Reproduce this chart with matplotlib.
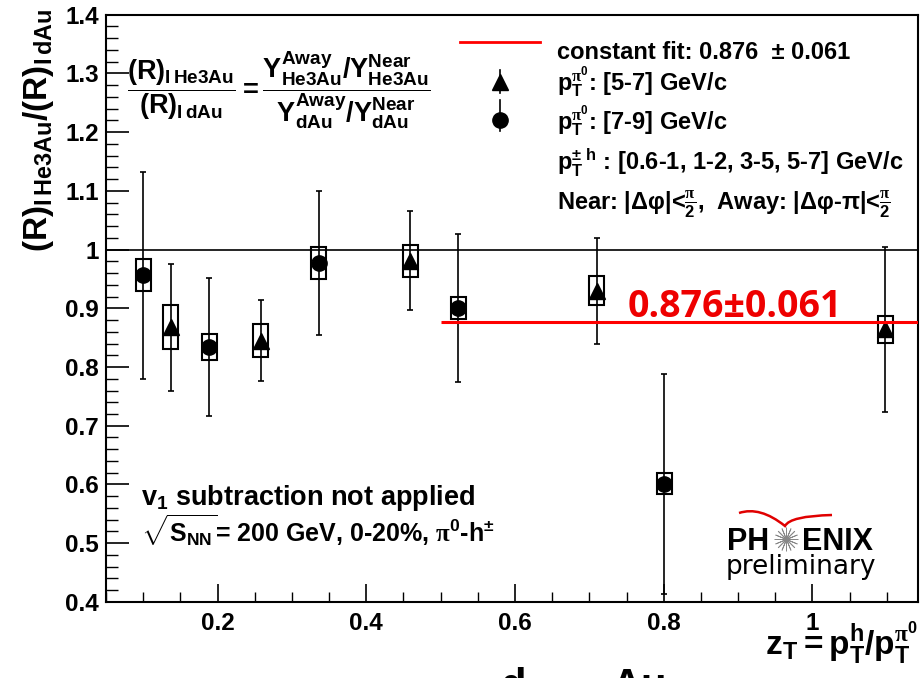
import numpy as np
import matplotlib.pyplot as plt
from matplotlib.lines import Line2D
from matplotlib.path import Path
from matplotlib.patches import PathPatch
from matplotlib.ticker import MultipleLocator

plt.rcParams['font.family'] = ['Liberation Sans', 'DejaVu Sans']
plt.rcParams['font.weight'] = 'bold'
plt.rcParams['mathtext.fontset'] = 'custom'
plt.rcParams['mathtext.rm'] = 'Liberation Sans:bold'
plt.rcParams['mathtext.it'] = 'Liberation Sans:bold'
plt.rcParams['mathtext.bf'] = 'Liberation Sans:bold'
plt.rcParams['mathtext.sf'] = 'Liberation Serif'
plt.rcParams['mathtext.default'] = 'rm'

# pi0 pT [5-7] GeV/c (triangles)
zt_57 = [0.137, 0.258, 0.459, 0.710, 1.098]
ratio_57 = [0.868, 0.845, 0.981, 0.930, 0.864]
stat_57 = [0.108, 0.069, 0.084, 0.090, 0.140]
sys_57 = [0.038, 0.028, 0.027, 0.025, 0.023]

# pi0 pT [7-9] GeV/c (circles)
zt_79 = [0.100, 0.189, 0.336, 0.524, 0.801]
ratio_79 = [0.956, 0.834, 0.977, 0.901, 0.601]
stat_79 = [0.176, 0.118, 0.123, 0.126, 0.187]
sys_79 = [0.027, 0.022, 0.027, 0.019, 0.018]

# constant fit
fit_value = 0.876
fit_error = 0.061
fit_xmin = 0.5

xmin, xmax = 0.05, 1.142
ymin, ymax = 0.4, 1.4
box_width = 0.02

fig = plt.figure(figsize=(9.23, 6.78), dpi=100)
ax = fig.add_axes([0.1148, 0.1121, 0.8798, 0.8665])

for zt, val, stat, sys, mk in [(zt_57, ratio_57, stat_57, sys_57, '^'),
                               (zt_79, ratio_79, stat_79, sys_79, 'o')]:
    zt = np.array(zt)
    val = np.array(val)
    sys = np.array(sys)
    ax.bar(zt, 2 * sys, bottom=val - sys, width=box_width, fill=False,
           edgecolor='black', linewidth=1.5, zorder=3)
    ax.errorbar(zt, val, yerr=stat, fmt='none', ecolor='black',
                elinewidth=1.2, capsize=2.2, capthick=1.2, zorder=2)
    ax.plot(zt, val, linestyle='none', marker=mk, markersize=11,
            color='black', zorder=4)

ax.axhline(1.0, color='black', linewidth=1.2, zorder=1)
ax.hlines(fit_value, fit_xmin, xmax, color='red', linewidth=2.2, zorder=5)
ax.text(0.751, 0.885, f'{fit_value:.3f}\u00b1{fit_error:.3f}', color='#ee0000',
        fontsize=27, fontfamily='Open Sans', fontweight='bold', va='baseline')

ax.set_xlim(xmin, xmax)
ax.set_ylim(ymin, ymax)
ax.xaxis.set_major_locator(MultipleLocator(0.2))
ax.xaxis.set_minor_locator(MultipleLocator(0.05))
ax.yaxis.set_major_locator(MultipleLocator(0.1))
ax.yaxis.set_minor_locator(MultipleLocator(0.02))
ax.xaxis.set_major_formatter(plt.FuncFormatter(lambda v, p: f'{v:g}'))
ax.yaxis.set_major_formatter(plt.FuncFormatter(lambda v, p: f'{v:.1f}' if abs(v - 1) > 1e-6 else '1'))
ax.tick_params(axis='y', which='major', direction='in', length=16.5, width=1.2,
               labelsize=17.5, pad=5)
ax.tick_params(axis='y', which='minor', direction='in', length=8.6, width=1.0)
ax.tick_params(axis='x', which='major', direction='in', length=13, width=1.2,
               labelsize=17.5, pad=7)
ax.tick_params(axis='x', which='minor', direction='in', length=7, width=1.0)
for lab in ax.get_xticklabels() + ax.get_yticklabels():
    lab.set_fontweight('bold')
for sp in ax.spines.values():
    sp.set_linewidth(1.5)

# axis titles
fig.text(39 / 923, 1 - 9 / 678, r'$(R)_{I\,He3Au}/(R)_{I\,dAu}$', rotation=90,
         ha='center', va='top', fontsize=24)
fig.text(918 / 923, 1 - 655 / 678, r'$z_T = p_T^h/p_T^{\mathsf{\pi}^0}$',
         ha='right', va='baseline', fontsize=24)

# ratio definition
ax.text(0.026, 0.871,
        r'$\dfrac{(R)_{I\,He3Au}}{(R)_{I\,dAu}} = '
        r'\dfrac{Y^{Away}_{He3Au}/Y^{Near}_{He3Au}}{Y^{Away}_{dAu}/Y^{Near}_{dAu}}$',
        transform=ax.transAxes, ha='left', va='center', fontsize=19.5)

# legend
ax.plot([0.436, 0.534], [0.953, 0.953], color='red', linewidth=2,
        transform=ax.transAxes, clip_on=False)
ax.plot([0.485, 0.485], [0.867, 0.906], color='black', linewidth=1.2,
        transform=ax.transAxes)
ax.plot([0.485], [0.885], marker='^', markersize=11, color='black',
        transform=ax.transAxes)
ax.plot([0.485, 0.485], [0.802, 0.854], color='black', linewidth=1.2,
        transform=ax.transAxes)
ax.plot([0.485], [0.820], marker='o', markersize=11, color='black',
        transform=ax.transAxes)
leg_x = 0.555
leg_rows = [
    (0.925, f'constant fit: {fit_value:.3f}  \u00b1 {fit_error:.3f}'),
    (0.870, r'$p_T^{\mathsf{\pi}^0}$: [5-7] GeV/c'),
    (0.803, r'$p_T^{\mathsf{\pi}^0}$: [7-9] GeV/c'),
    (0.735, r'$p_T^{\pm\ h}$ : [0.6-1, 1-2, 3-5, 5-7] GeV/c'),
    (0.667, 'Near: |\u0394\u03c6|<$\\frac{\\mathsf{\\pi}}{2}$,  '
            'Away: |\u0394\u03c6-\u03c0|<$\\frac{\\mathsf{\\pi}}{2}$'),
]
for y, s in leg_rows:
    ax.text(leg_x, y, s, transform=ax.transAxes, fontsize=17, va='baseline')

# conditions
ax.text(0.043, 0.165, r'$v_1$ subtraction not applied', transform=ax.transAxes,
        fontsize=19.5, va='baseline')
ax.text(0.043, 0.102, r'$\sqrt{S_{NN}}$= 200 GeV, 0-20%, $\mathsf{\pi}^0$-h$^{\pm}$',
        transform=ax.transAxes, fontsize=18, va='baseline')

# PHENIX preliminary logo
fig.text(727 / 923, 1 - 550 / 678, 'PH', fontsize=22, fontweight='bold',
         ha='left', va='baseline')
fig.text(873 / 923, 1 - 550 / 678, 'ENIX', fontsize=22, fontweight='bold',
         ha='right', va='baseline')
fig.add_artist(Line2D([786 / 923], [1 - 539 / 678], marker=(16, 2, 0),
                      markersize=17, color='#888888', markeredgewidth=0.6,
                      transform=fig.transFigure))
fig.text(801 / 923, 1 - 574 / 678, 'preliminary', fontsize=19,
         fontfamily='DejaVu Sans', fontweight='normal', ha='center',
         va='baseline')
swoosh_px = [(739, 513), (760, 506), (785, 526), (790, 516), (832, 515)]
verts = [(x / 923, 1 - y / 678) for x, y in swoosh_px]
path = Path(verts, [Path.MOVETO, Path.CURVE3, Path.CURVE3, Path.CURVE3, Path.CURVE3])
fig.add_artist(PathPatch(path, facecolor='none', edgecolor='#e00000',
                         linewidth=1.8, transform=fig.transFigure))

# cut-off text at the bottom edge
fig.text(500 / 923, 1 - 667 / 678, 'd', fontsize=30, fontweight='bold',
         ha='left', va='top')
fig.text(612 / 923, 1 - 667 / 678, 'Au', fontsize=30, fontweight='bold',
         ha='left', va='top')

fig.savefig('out.png', dpi=100)
